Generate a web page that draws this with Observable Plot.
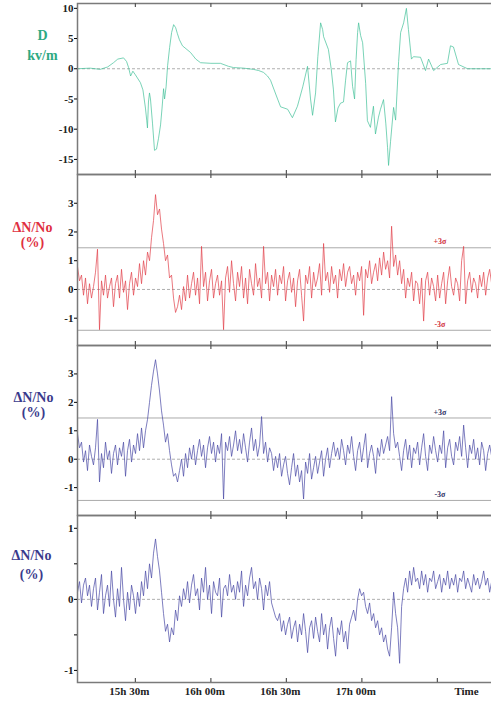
<!DOCTYPE html>
<html><head><meta charset="utf-8">
<script src="https://cdn.jsdelivr.net/npm/d3@7"></script>
<script src="https://cdn.jsdelivr.net/npm/@observablehq/plot@0.6"></script>
<style>
html,body{margin:0;padding:0;background:#fff;overflow:hidden;width:491px;height:706px}
#chart{width:494px;overflow:hidden}
#chart svg{display:block;max-width:none}
</style></head><body><div id="chart"></div>
<script>
// time in minutes after 15h 00m
const xTicks = [30, 60, 90, 120, 150];
const xTickLabels = ["15h 30m", "16h 00m", "16h 30m", "17h 00m"];
const timeLabel = "Time";

// Panel 1: electric field D (kV/m), [minute, value]
const fieldSeries = [[7,0],[12,0.1],[16,-0.1],[19,0.3],[21.3,1.0],[23,1.6],[25.3,1.8],[26.5,1.2],[27.3,0.2],[28.1,-1.2],[29,-0.4],[30,-1.0],[32,-2.3],[33,-3.5],[34,-6.5],[34.5,-8.5],[34.8,-9.8],[35.2,-5.5],[35.6,-4.0],[36,-5.0],[36.8,-9],[37.6,-13.5],[38.4,-13.3],[39.2,-11.5],[40,-9.3],[40.6,-6.5],[41.2,-3.3],[41.6,-5.0],[42.2,-3],[42.8,0.5],[43.6,3.5],[44.4,6.0],[45.2,7.3],[46,6.8],[46.7,5.8],[47.5,4.8],[48.7,3.8],[51.9,2.7],[54,1.6],[55.9,1.0],[60,0.9],[63.8,0.9],[67,0.4],[69,0.2],[73,0.1],[76.9,-0.1],[79,-0.3],[80.9,-0.6],[82.5,-1.2],[83.7,-1.9],[86.5,-5.0],[87.7,-6.3],[90.5,-6.7],[92.4,-8.1],[94.4,-6.2],[96.5,-3.0],[98.4,0.4],[99.6,-5.0],[100.4,-7.7],[101.6,-4.0],[102.5,2.0],[103.6,7.6],[104.4,6.5],[104.8,5.3],[106.7,3.2],[107.8,0],[108.7,-3.5],[109.5,-8.8],[110.5,-6.5],[111.5,-5.7],[112.7,-5.5],[113.5,-2],[114.3,1.0],[115.5,1.3],[116.3,-2.9],[117.1,-5.0],[117.7,1.5],[118.3,6.0],[118.7,7.6],[119.5,5.5],[120.3,4.3],[121.5,-2.4],[122.2,-8.6],[123.4,-9.7],[124.6,-6.2],[125.4,-10.8],[126.6,-8],[127.4,-6.7],[128.6,-5.1],[129.5,-9],[130.2,-13.0],[130.6,-16.0],[131.4,-12],[132.6,-6.4],[133.4,-8.5],[134.6,1.2],[135.4,6.0],[136.6,7.6],[137.7,10.0],[138.5,6.5],[139.7,1.6],[140.5,2.0],[143.3,1.9],[145.3,-0.3],[146.5,1.6],[148.5,-0.3],[151.3,0.7],[154,0.9],[155.2,3.8],[156.4,3.6],[158.4,0.7],[162,0],[167.2,0],[171.5,0]];

// sampling grid of the density records (minutes)
const sampleStart = 7;
const sampleStep = 0.795;

// Panel 2: ΔN/No (%) – red record
const densityRed = [0.8,0.3,0.5,-0.2,0.4,-0.5,0.2,-0.3,0.1,0.6,
1.4,-1.4,0.3,-0.2,0.5,-0.3,0.1,0.4,-0.6,0.2,
0.5,-0.3,0.7,-0.1,0.3,-0.7,0.2,0.6,-0.2,0.4,
0.1,0.9,0.2,1.0,0.5,1.3,1.0,1.8,2.4,3.3,
2.6,2.8,2.1,1.6,1.0,1.2,0.4,0.5,-0.3,-0.8,
-0.6,-0.2,-0.7,0.1,-0.4,0.5,-0.3,0.2,0.6,-0.2,
0.4,-0.5,1.5,0.1,0.6,-0.4,0.3,0.7,-0.3,0.2,
0.5,-0.2,0.3,-1.4,0.4,0.8,-0.1,1.0,0.2,-0.4,
0.6,0.1,0.8,-0.3,0.4,-0.5,0.7,0.2,-0.2,0.9,
0.1,0.4,-0.3,1.5,0.2,0.6,-0.4,0.5,0.1,0.7,
-0.2,0.5,0.2,0.8,-0.4,0.3,0.6,-0.1,0.4,-0.6,
0.3,0.7,-0.2,-1.1,0.5,0.2,0.8,-0.3,0.6,0.1,
0.4,0.9,-0.2,1.6,0.3,0.6,-0.1,0.8,0.2,0.5,
-0.3,0.7,0.3,0.9,0.1,0.6,0.8,0.2,0.5,-0.2,
0.6,0.3,0.8,-0.9,0.7,0.4,1.0,0.2,0.6,0.9,
0.3,1.1,0.5,1.3,0.7,1.0,0.4,2.2,0.8,1.2,
0.5,1.0,0.2,0.7,-0.3,0.4,0.1,0.6,-0.4,0.3,
0.2,-0.5,0.4,-1.1,0.3,0.6,-0.2,0.4,0.1,-0.4,
0.5,-0.3,0.2,0.6,-0.5,0.3,0.8,0.1,-0.2,0.4,
0.2,-0.4,1.0,1.5,-0.5,0.3,0.6,-0.1,0.4,0.2,
-0.3,0.5,0.1,0.6,-0.2,0.4,0.7,0.2];

// Panel 3: ΔN/No (%) – blue record
const densityBlue = [0.9,0.4,0.6,-0.1,0.3,-0.4,0.5,0.1,-0.2,0.4,
1.4,-0.8,0.2,-0.3,0.6,0.0,0.3,-0.5,0.2,0.5,
-0.2,0.4,0.1,0.6,-0.6,0.3,0.7,-0.1,0.5,0.2,
0.9,0.3,1.1,0.4,1.0,1.4,2.0,2.6,3.1,3.5,
3.0,2.4,1.7,1.2,0.6,0.9,0.3,-0.2,-0.6,-0.5,
-0.8,-0.4,0.0,-0.6,0.2,-0.3,0.4,0.0,0.5,-0.2,
0.3,0.7,0.1,0.5,-0.3,0.4,0.8,0.2,0.6,-0.1,
0.5,0.2,0.9,-1.4,0.6,0.3,0.8,0.1,0.5,1.0,
0.3,0.7,0.2,0.9,0.4,-0.1,0.6,1.1,0.3,0.7,
0.1,0.5,1.5,0.2,0.6,-0.1,0.4,0.2,-0.4,0.1,
-0.3,0.2,-0.6,-0.2,0.1,-0.5,-0.9,-0.3,0.2,-0.6,
-0.2,-0.8,-0.4,-1.4,-0.1,-0.5,0.2,-0.7,-0.3,0.1,
-0.5,-0.1,0.3,-0.6,0.0,0.4,-0.3,0.2,0.6,0.1,
0.4,0.0,0.7,0.3,-0.2,0.5,0.2,0.8,0.1,-0.4,
0.3,0.6,-0.1,0.4,0.9,-0.3,0.2,0.5,0.1,-0.5,
0.4,0.1,0.7,0.2,0.5,0.8,0.3,2.2,0.9,0.4,
0.6,0.1,-0.4,0.3,0.7,0.0,0.5,-0.3,0.4,0.2,
0.6,-0.2,0.4,0.9,0.1,-0.4,0.5,0.2,0.8,0.3,
-0.1,0.5,0.2,1.0,-0.3,0.4,0.7,0.1,-0.2,0.6,
0.3,0.8,0.1,1.2,0.4,-0.3,0.5,0.2,0.7,0.0,
0.4,-0.2,0.6,0.3,-0.4,0.2,0.5,0.1];

// Panel 4: ΔN/No (%) – filtered blue record
const densityFiltered = [0.1,0.25,-0.05,0.2,0.3,0.05,0.2,-0.1,0.15,0.3,
-0.15,0.1,0.35,-0.2,0.05,0.2,-0.1,0.4,0.0,-0.25,
0.15,-0.1,0.45,0.0,-0.3,0.1,-0.15,0.2,0.05,-0.2,
0.1,-0.1,0.25,0.05,0.4,0.15,0.5,0.3,0.65,0.85,
0.6,0.4,0.1,-0.2,-0.45,-0.35,-0.6,-0.4,-0.5,-0.15,
-0.3,0.05,-0.1,0.15,0.0,0.25,-0.05,0.2,0.35,0.05,
0.15,-0.15,0.3,0.1,0.45,0.0,0.2,-0.2,0.25,0.1,
0.05,0.3,-0.25,0.15,0.2,0.05,0.35,0.1,0.2,0.0,
0.25,0.1,0.4,-0.1,0.2,0.05,0.3,0.45,0.15,0.25,
0.0,0.3,0.15,-0.15,0.2,0.05,0.25,-0.05,-0.15,-0.25,
-0.3,-0.2,-0.45,-0.3,-0.5,-0.35,-0.25,-0.55,-0.4,-0.3,
-0.6,-0.35,-0.5,-0.2,-0.45,-0.75,-0.4,-0.3,-0.55,-0.25,
-0.45,-0.6,-0.2,-0.5,-0.35,-0.7,-0.4,-0.25,-0.55,-0.8,
-0.4,-0.5,-0.3,-0.6,-0.45,-0.7,-0.35,-0.25,-0.15,-0.3,
0.0,0.15,0.05,0.1,-0.1,-0.2,-0.05,-0.3,-0.2,-0.4,
-0.3,-0.5,-0.4,-0.6,-0.5,-0.7,-0.8,-0.4,0.1,-0.2,
-0.4,-0.9,-0.1,0.15,0.3,0.1,0.4,0.2,0.45,0.25,
0.3,0.15,0.4,0.2,0.35,0.1,0.3,0.25,0.4,0.15,
0.25,0.35,0.1,0.3,0.2,0.4,0.15,0.3,0.2,0.35,
0.1,0.3,0.25,0.4,0.15,0.3,0.2,0.1,0.35,0.2,
0.3,0.15,0.25,0.4,0.2,0.3,0.1,0.25];

const sigmaRed = [1.45, -1.42];
const sigmaBlue = [1.45, -1.45];
const sigmaNames = ["+3σ", "-3σ"];
const sigmaLabelTime = 151;

const serif = "Liberation Serif";
const xDomain = [7, 172.7];
const toRecords = arr => arr.map((v, i) => ({t: sampleStart + i * sampleStep, v}));

function panel(cfg) {
  const fh = cfg.height - cfg.marginTop - cfg.marginBottom;
  const marks = [
    Plot.ruleY([0], {stroke: "#9a9a9a", strokeWidth: 0.8, strokeDasharray: "3,2"})
  ];
  if (cfg.sigma) {
    marks.push(Plot.ruleY(cfg.sigma, {stroke: "#a0a0a0", strokeWidth: 0.9}));
    marks.push(Plot.text(cfg.sigma.map((s, i) => ({v: s, s: sigmaNames[i]})), {
      x: () => sigmaLabelTime, y: "v", text: "s", dy: -6, fontSize: 8, fill: cfg.sigmaColor, fontFamily: serif
    }));
  }
  marks.push(Plot.line(cfg.data, {x: "t", y: "v", stroke: cfg.color, strokeWidth: cfg.strokeWidth || 0.9, strokeOpacity: 0.8}));
  marks.push(Plot.frame({stroke: "#7a7a7a", strokeWidth: 1.5}));
  marks.push(Plot.tickX(xTicks, {x: d => d, stroke: "#555", strokeWidth: 1.2, insetBottom: fh - 4}));
  marks.push(Plot.tickX(xTicks, {x: d => d, stroke: "#555", strokeWidth: 1.2, insetTop: fh - 4}));
  marks.push(Plot.axisY({ticks: cfg.yTicks, tickSize: 3, tickPadding: 1, tickFormat: cfg.yFormat || (d => d), label: null, fontSize: 11, fontWeight: "bold", fontFamily: serif, fill: "#222"}));
  marks.push(Plot.text([cfg.label], {
    frameAnchor: "top-left", dx: cfg.labelDx, dy: cfg.labelDy, textAnchor: "middle", lineAnchor: "middle",
    lineHeight: cfg.lineHeight, fontSize: cfg.labelSize, fontWeight: "bold", fontFamily: serif, fill: cfg.labelColor
  }));
  if (cfg.xAxis) {
    marks.push(Plot.text(xTicks.slice(0, 4), {
      x: d => d, text: (d, i) => xTickLabels[i], frameAnchor: "bottom", lineAnchor: "top",
      dy: 5, dx: -6, fontSize: 11, fontWeight: "bold", fontFamily: serif, fill: "#222"
    }));
    marks.push(Plot.text([timeLabel], {
      frameAnchor: "bottom-right", lineAnchor: "top", textAnchor: "middle",
      dy: 5, dx: -28, fontSize: 11, fontWeight: "bold", fontFamily: serif, fill: "#222"
    }));
  }
  return Plot.plot({
    width: 494, height: cfg.height,
    marginLeft: 77, marginRight: 0, marginTop: cfg.marginTop, marginBottom: cfg.marginBottom,
    x: {domain: xDomain, axis: null},
    y: {domain: cfg.yDomain, axis: null},
    style: {fontFamily: serif, fontWeight: "bold", fontSize: "11px", background: "white", overflow: "visible"},
    marks
  });
}

const chart = document.getElementById("chart");
chart.append(panel({
  data: fieldSeries.map(([t, v]) => ({t, v})), color: "#46c29a", strokeWidth: 0.9,
  height: 174, marginTop: 3, marginBottom: 0,
  yDomain: [-17.5, 10.8], yTicks: [-15, -10, -5, 0, 5, 10],
  label: "D\nkv/m", labelColor: "#2ea982", labelDx: -35, labelDy: 40, labelSize: 14, lineHeight: 1.4
}));
chart.append(panel({
  data: toRecords(densityRed), color: "#e2434d",
  height: 171, marginTop: 0, marginBottom: 0,
  yDomain: [-1.95, 4.0], yTicks: [-1, 0, 1, 2, 3],
  sigma: sigmaRed, sigmaColor: "#d03040",
  label: "ΔN/No\n(%)", labelColor: "#e0303f", labelDx: -45, labelDy: 60, labelSize: 14, lineHeight: 1.1
}));
chart.append(panel({
  data: toRecords(densityBlue), color: "#4b4ba6",
  height: 170, marginTop: 0, marginBottom: 0,
  yDomain: [-1.98, 4.0], yTicks: [-1, 0, 1, 2, 3],
  sigma: sigmaBlue, sigmaColor: "#333366",
  label: "ΔN/No\n(%)", labelColor: "#3a3a8c", labelDx: -44, labelDy: 59, labelSize: 14, lineHeight: 1.05
}));
chart.append(panel({
  data: toRecords(densityFiltered), color: "#4b4ba6",
  height: 191, marginTop: 0, marginBottom: 24,
  yDomain: [-1.17, 1.18], yTicks: [-1, -0.5, 0, 0.5, 1], yFormat: d => Number.isInteger(d) ? d : "",
  label: "ΔN/No\n(%)", labelColor: "#3a3a8c", labelDx: -46, labelDy: 48, labelSize: 14, lineHeight: 1.35, xAxis: true
}));
</script></body></html>
